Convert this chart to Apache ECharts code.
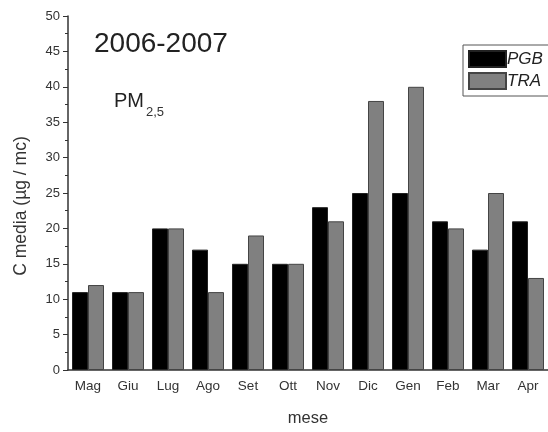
<!DOCTYPE html>
<html>
<head>
<meta charset="utf-8">
<script src="https://cdn.jsdelivr.net/npm/echarts@6/dist/echarts.min.js"></script>
<style>html,body{margin:0;padding:0;background:#fff}#c{width:548px;height:432px}</style>
</head>
<body>
<div id="c"></div>
<script>
const months = ['Mag','Giu','Lug','Ago','Set','Ott','Nov','Dic','Gen','Feb','Mar','Apr'];
const pgb = [11, 11, 20, 17, 15, 15, 23, 25, 25, 21, 17, 21];
const tra = [12, 11, 20, 11, 19, 15, 21, 38, 40, 20, 25, 13];
const yTicks = [0, 5, 10, 15, 20, 25, 30, 35, 40, 45, 50];

const FONT = '"Liberation Sans", Arial, sans-serif';
const chart = echarts.init(document.getElementById('c'), null, {renderer: 'canvas'});
chart.setOption({
  animation: false,
  backgroundColor: '#fff',
  textStyle: {fontFamily: FONT},
  grid: {left: 68, top: 16, bottom: 60, right: -4, containLabel: false},
  legend: {
    orient: 'vertical', left: 463, top: 45,
    padding: [5, 22, 6, 5], itemGap: 4, itemWidth: 37, itemHeight: 16,
    borderColor: '#555', borderWidth: 1,
    textStyle: {fontFamily: FONT, fontStyle: 'italic', fontSize: 17, color: '#222', padding: [0,0,0,-4]},
    data: [{name: 'PGB', icon: 'rect'}, {name: 'TRA', icon: 'rect'}]
  },
  xAxis: [{
    type: 'category', data: months, gridIndex: 0,
    name: 'mese', nameLocation: 'middle', nameGap: 40,
    nameTextStyle: {fontSize: 16.5, color: '#333', fontFamily: FONT},
    axisLine: {lineStyle: {color: '#333', width: 1.5}},
    axisTick: {alignWithLabel: true, length: 5, lineStyle: {color: '#333'}},
    axisLabel: {fontSize: 13.5, color: '#333', margin: 9, fontFamily: FONT}
  }, {
    type: 'category', data: months, gridIndex: 0, position: 'bottom',
    axisLine: {show: false},
    axisTick: {length: 3, lineStyle: {color: '#333'}},
    axisLabel: {show: false}
  }],
  yAxis: {
    type: 'value', min: 0, max: 50, interval: 5,
    name: 'C media (µg / mc)', nameLocation: 'middle', nameGap: 38,
    nameTextStyle: {fontSize: 17.5, color: '#333', fontFamily: FONT, padding: [0, 26, 0, 0]},
    axisLine: {show: true, lineStyle: {color: '#333', width: 1.5}},
    axisTick: {show: true, length: 5, lineStyle: {color: '#333'}},
    minorTick: {show: true, splitNumber: 2, length: 3, lineStyle: {color: '#333'}},
    splitLine: {show: false},
    axisLabel: {fontSize: 13, color: '#333', margin: 8, fontFamily: FONT,
      formatter: v => yTicks.includes(v) ? String(v) : ''}
  },
  series: [{
    name: 'PGB', type: 'bar', data: pgb, barGap: '0%', barCategoryGap: '20%',
    itemStyle: {color: '#000', borderColor: '#222', borderWidth: 1}
  }, {
    name: 'TRA', type: 'bar', data: tra, barGap: '0%', barCategoryGap: '20%',
    itemStyle: {color: '#808080', borderColor: '#444', borderWidth: 1}
  }],
  graphic: [
    {type: 'text', left: 94, top: 30, style: {text: '2006-2007', fill: '#222', font: '28px ' + FONT}},
    {type: 'text', left: 114, top: 91, style: {text: 'PM', fill: '#222', font: '20px ' + FONT}},
    {type: 'text', left: 146, top: 106, style: {text: '2,5', fill: '#333', font: '13px ' + FONT}}
  ]
});
</script>
</body>
</html>
